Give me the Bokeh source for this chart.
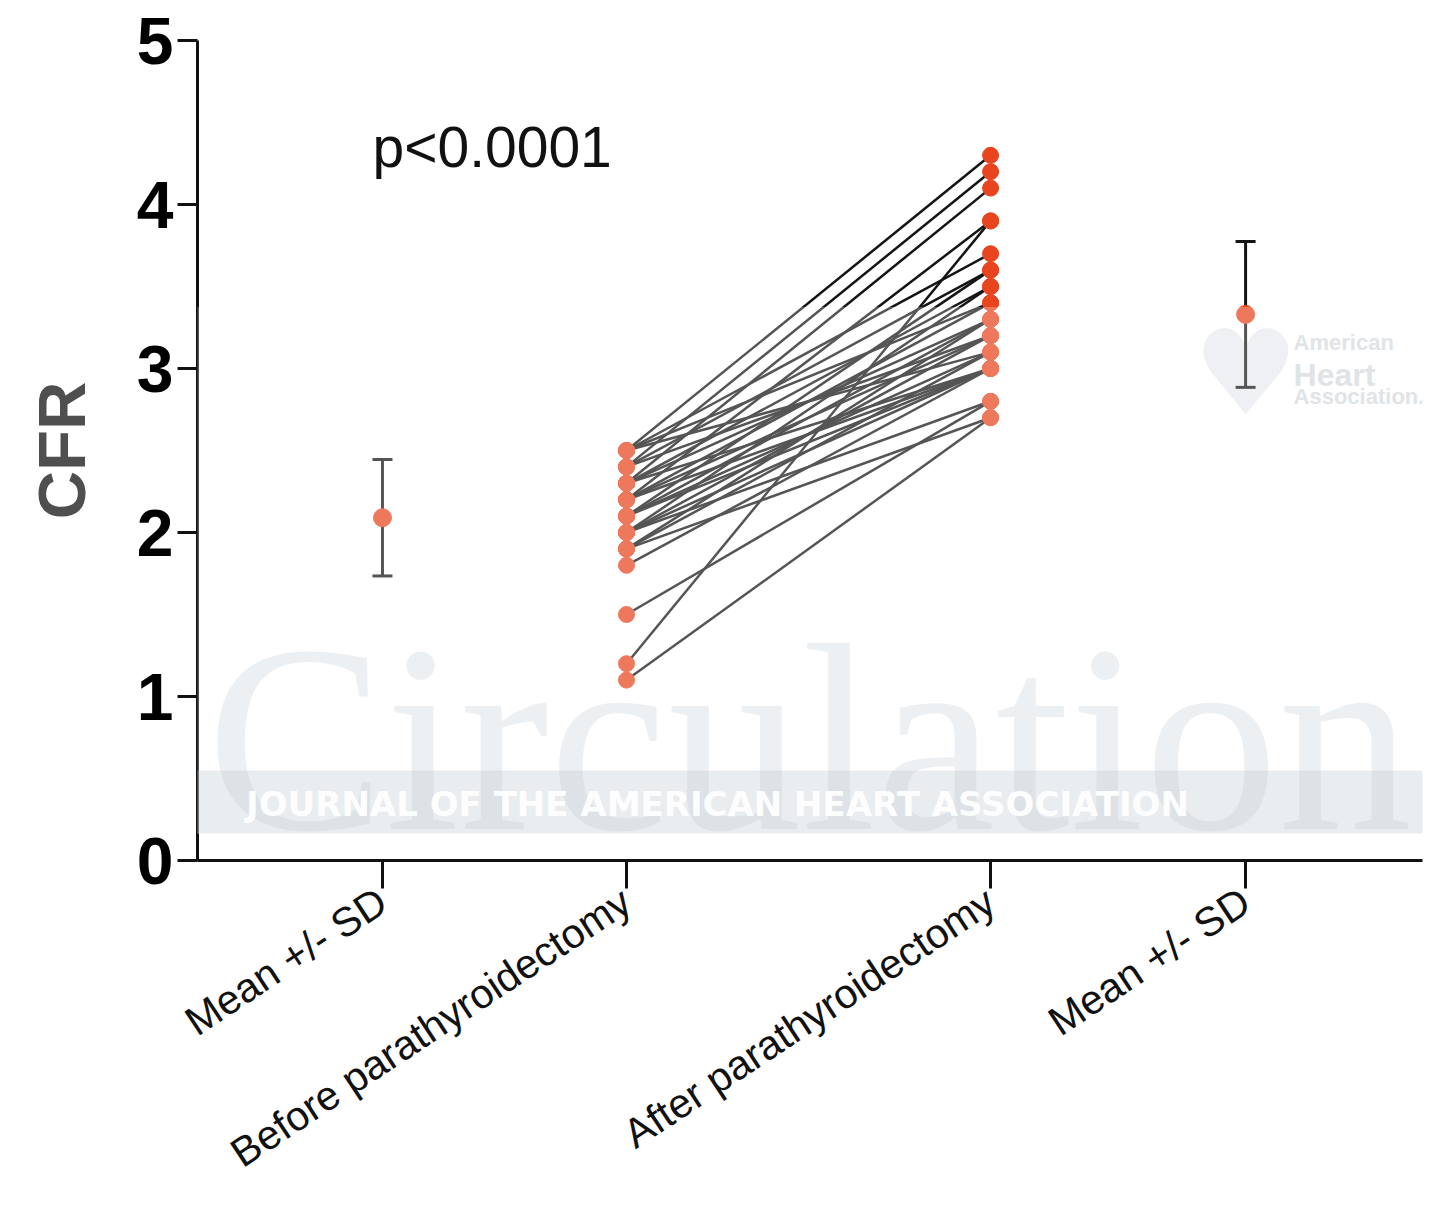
import math
from bokeh.plotting import figure
from bokeh.models import ColumnDataSource, FixedTicker, Label, Whisker, TeeHead, Range1d
from bokeh.embed import file_html
from bokeh.resources import INLINE

# ---------------- data ----------------
categories = ["Mean +/- SD", "Before parathyroidectomy", "After parathyroidectomy", "Mean +/- SD"]
before = [2.5, 2.4, 2.3, 2.2, 1.2, 2.5, 2.4, 2.1, 2.3, 2.0, 2.5, 2.2, 2.1, 1.9, 2.3,
          2.4, 2.0, 2.2, 2.1, 1.9, 2.5, 2.3, 2.0, 2.2, 1.8, 2.1, 1.5, 2.0, 1.1, 1.9]
after = [4.3, 4.2, 4.1, 3.9, 3.9, 3.7, 3.6, 3.6, 3.5, 3.5, 3.4, 3.4, 3.3, 3.3, 3.3,
         3.2, 3.2, 3.2, 3.1, 3.1, 3.1, 3.0, 3.0, 3.0, 3.0, 3.0, 2.8, 2.8, 2.7, 2.7]
mean_values = [2.09, 3.33]
sd_values = [0.355, 0.445]
y_ticks = [0, 1, 2, 3, 4, 5]
y_label = "CFR"
p_text = "p<0.0001"
watermark = "Circulation"
band_text = "JOURNAL OF THE AMERICAN HEART ASSOCIATION"
logo_lines = ["American", "Heart", "Association."]

# ---------------- layout ----------------
x_pos = [1.0, 2.0, 3.492, 4.537]
FONT = "Liberation Sans"
LINE = "#141414"
DOT = "#e8441d"


def px2x(px):
    return 1 + (px - 382) / 244.0


def px2y(py):
    return (860 - py) / 164.0


p = figure(width=1425, height=1199, output_backend="svg", toolbar_location=None,
           x_range=Range1d(0.242, 5.262), y_range=Range1d(0, 5),
           min_border_left=197, min_border_right=3, min_border_top=40, min_border_bottom=339)
p.outline_line_color = None
p.xgrid.grid_line_color = None
p.ygrid.grid_line_color = None
p.background_fill_color = "white"
p.border_fill_color = "white"

# watermark behind everything
p.add_layout(Label(x=px2x(206), y=px2y(738), text=watermark, text_font="Liberation Serif",
                   text_font_size="268px", text_color="#e7ebee", text_align="left",
                   text_baseline="alphabetic", level="underlay"))
p.add_layout(Label(x=px2x(1245), y=px2y(372), text="\u2665", text_font="DejaVu Sans",
                   text_font_size="118px", text_color="#e8ebef", text_align="center",
                   text_baseline="middle", level="underlay"))

# paired lines
n = len(before)
xs = [[x_pos[1], x_pos[2]] for _ in range(n)]
ys = [[before[i], after[i]] for i in range(n)]
p.multi_line(xs=xs, ys=ys, line_color=LINE, line_width=2.5)

p.scatter(x=[x_pos[1]] * n, y=before, size=16, fill_color=DOT, line_color=DOT)
p.scatter(x=[x_pos[2]] * n, y=after, size=16, fill_color=DOT, line_color=DOT)

# mean +/- SD
msrc = ColumnDataSource(dict(
    x=[x_pos[0], x_pos[3]],
    m=mean_values,
    up=[m + s for m, s in zip(mean_values, sd_values)],
    lo=[m - s for m, s in zip(mean_values, sd_values)],
))
wh = Whisker(base="x", upper="up", lower="lo", source=msrc, dimension="height",
             line_color=LINE, line_width=3,
             upper_head=TeeHead(size=20, line_width=3, line_color=LINE),
             lower_head=TeeHead(size=20, line_width=3, line_color=LINE))
p.add_layout(wh)
p.scatter(x="x", y="m", source=msrc, size=18, fill_color=DOT, line_color=DOT)

p.add_layout(Label(x=px2x(372), y=px2y(146), text=p_text, text_font=FONT,
                   text_font_size="57px", text_color="#111111", text_align="left",
                   text_baseline="alphabetic"))

# axes
p.xaxis.ticker = FixedTicker(ticks=x_pos)
p.xaxis.major_label_overrides = {x_pos[i]: categories[i] for i in range(4)}
p.xaxis.major_label_orientation = 0.585
p.xaxis.major_label_text_font = FONT
p.xaxis.major_label_text_font_size = "41px"
p.xaxis.major_label_text_color = "#111111"
p.xaxis.major_label_standoff = 9
p.xaxis.major_tick_out = 28
p.xaxis.major_tick_in = 0
p.xaxis.major_tick_line_width = 3
p.xaxis.major_tick_line_color = "#111111"
p.xaxis.minor_tick_line_color = None
p.xaxis.axis_line_width = 3
p.xaxis.axis_line_color = "#111111"

p.yaxis.ticker = FixedTicker(ticks=y_ticks)
p.yaxis.axis_label = y_label
p.yaxis.axis_label_text_font = FONT
p.yaxis.axis_label_text_font_style = "bold"
p.yaxis.axis_label_text_font_size = "67px"
p.yaxis.axis_label_text_color = "#4f4f4f"
p.yaxis.axis_label_standoff = 35
p.yaxis.major_label_text_font = FONT
p.yaxis.major_label_text_font_style = "bold"
p.yaxis.major_label_text_font_size = "66px"
p.yaxis.major_label_text_color = "#000000"
p.yaxis.major_label_standoff = 4
p.yaxis.major_tick_out = 20
p.yaxis.major_tick_in = 0
p.yaxis.major_tick_line_width = 3
p.yaxis.major_tick_line_color = "#111111"
p.yaxis.minor_tick_line_color = None
p.yaxis.axis_line_width = 3
p.yaxis.axis_line_color = "#111111"

# watermark overlay (lightening band, journal band, logo text)
p.add_layout(Label(x=px2x(720.5), y=px2y(570), text=" ", text_font_size="1px",
                   text_align="center", text_baseline="middle",
                   background_fill_color="white", background_fill_alpha=0.28,
                   padding=dict(top=263, right=720, bottom=263, left=720), level="overlay"))
p.add_layout(Label(x=px2x(714.5), y=px2y(801.5), text=" ", text_font_size="1px",
                   text_align="center", text_baseline="middle",
                   background_fill_color="#b9c3cd", background_fill_alpha=0.3,
                   padding=dict(top=31, right=714, bottom=31, left=714), level="overlay"))
p.add_layout(Label(x=px2x(717), y=px2y(803), text=band_text, text_font="DejaVu Sans",
                   text_font_style="bold", text_font_size="34px", text_color="white",
                   text_alpha=0.95, text_align="center", text_baseline="middle", level="overlay"))
for txt, yy, fs in zip(logo_lines, [342, 374, 396], ["22px", "32px", "22px"]):
    p.add_layout(Label(x=px2x(1293), y=px2y(yy), text=txt, text_font=FONT, text_font_style="bold",
                       text_font_size=fs, text_color="#e0e4e7", text_align="left",
                       text_baseline="alphabetic", level="overlay"))

open("out.html", "w").write(file_html(p, INLINE))
